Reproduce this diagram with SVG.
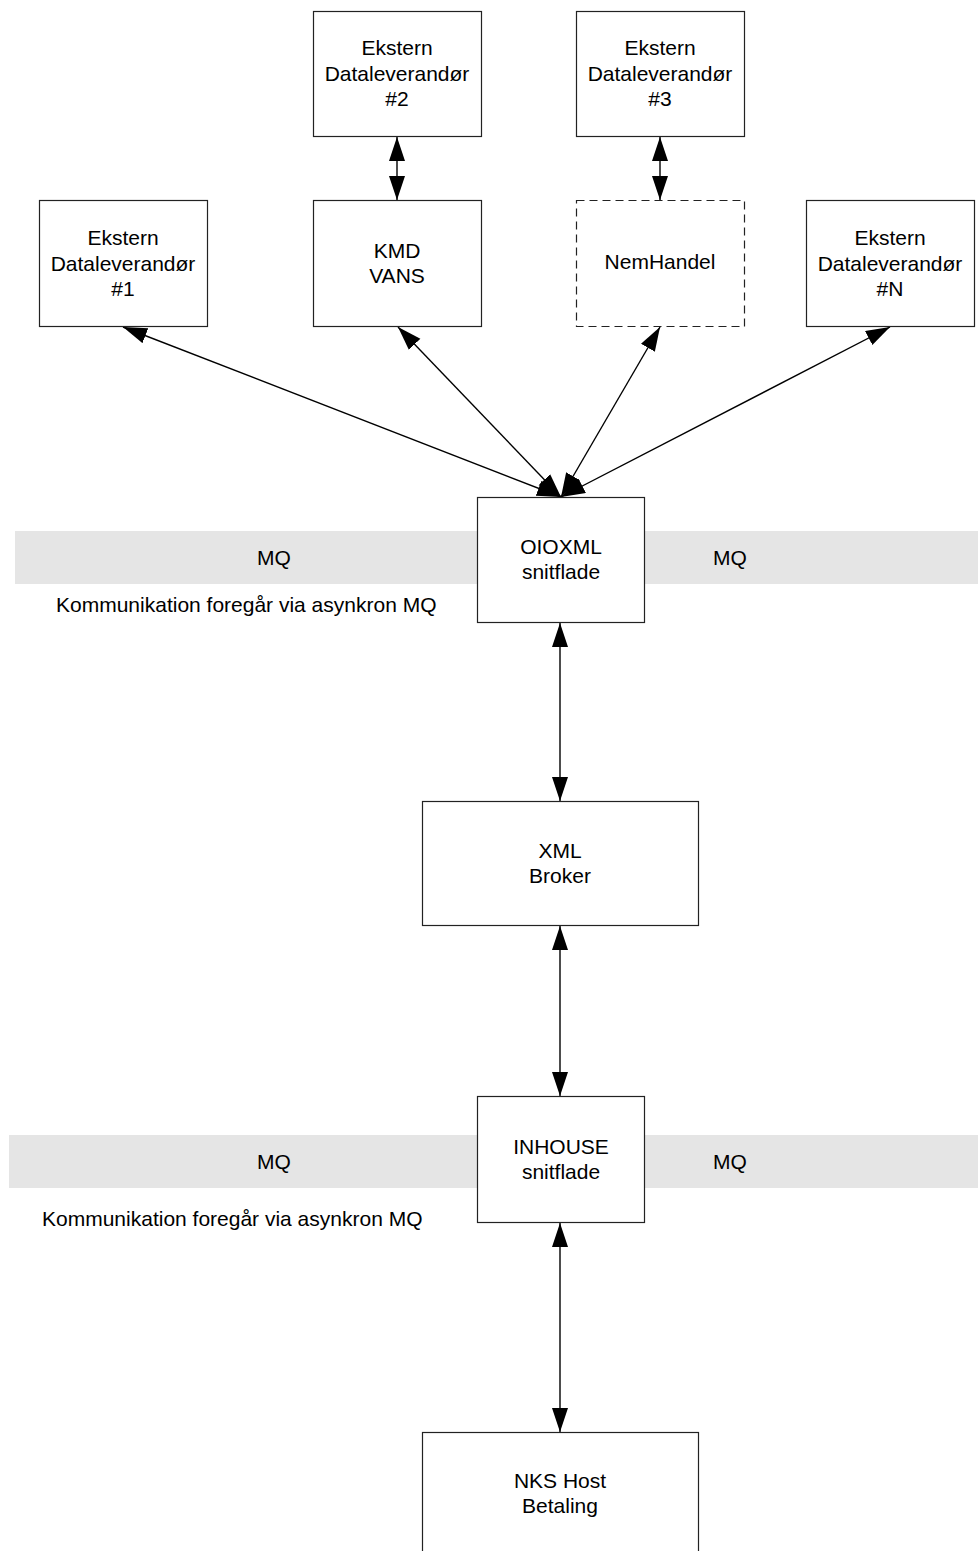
<svg xmlns="http://www.w3.org/2000/svg" width="978" height="1551" viewBox="0 0 978 1551">
<style>
.box{fill:#fff;stroke:#222;stroke-width:1.2}
.dash{stroke-dasharray:8 5}
.band{fill:#e5e5e5}
.t{font-family:"Liberation Sans",Arial,sans-serif;font-size:21px;fill:#000;text-anchor:middle}
.tl{font-family:"Liberation Sans",Arial,sans-serif;font-size:21px;fill:#000}
.c{stroke:#000;stroke-width:1.4;fill:none;marker-start:url(#ah);marker-end:url(#ah)}
</style>
<defs>
<marker id="ah" markerUnits="userSpaceOnUse" markerWidth="26" markerHeight="18" refX="24" refY="8" orient="auto-start-reverse" viewBox="0 0 26 18">
<path d="M0,0 L24,8 L0,16 Z" fill="#000"/>
</marker>
</defs>
<rect class="band" x="15" y="531" width="963" height="53"/>
<rect class="band" x="9" y="1135" width="969" height="53"/>
<g id="mq-labels">
<text class="t" x="274" y="565">MQ</text>
<text class="t" x="730" y="565">MQ</text>
<text class="tl" x="56" y="612">Kommunikation foregår via asynkron MQ</text>
<text class="t" x="274" y="1169">MQ</text>
<text class="t" x="730" y="1169">MQ</text>
<text class="tl" x="42" y="1226">Kommunikation foregår via asynkron MQ</text>
</g>
<g id="connectors">
<line class="c" x1="397" y1="137" x2="397" y2="200"/>
<line class="c" x1="660" y1="137" x2="660" y2="200"/>
<line class="c" x1="561" y1="497" x2="123" y2="327"/>
<line class="c" x1="561" y1="497" x2="398" y2="327"/>
<line class="c" x1="561" y1="497" x2="660" y2="327"/>
<line class="c" x1="561" y1="497" x2="890" y2="327"/>
<line class="c" x1="560" y1="623" x2="560" y2="801"/>
<line class="c" x1="560" y1="926" x2="560" y2="1096"/>
<line class="c" x1="560" y1="1223" x2="560" y2="1432"/>
</g>
<g id="ekstern2">
<rect class="box" x="313.5" y="11.5" width="168" height="125"/>
<text class="t" x="397" y="55">Ekstern</text>
<text class="t" x="397" y="81">Dataleverandør</text>
<text class="t" x="397" y="106">#2</text>
</g>
<g id="ekstern3">
<rect class="box" x="576.5" y="11.5" width="168" height="125"/>
<text class="t" x="660" y="55">Ekstern</text>
<text class="t" x="660" y="81">Dataleverandør</text>
<text class="t" x="660" y="106">#3</text>
</g>
<g id="ekstern1">
<rect class="box" x="39.5" y="200.5" width="168" height="126"/>
<text class="t" x="123" y="245">Ekstern</text>
<text class="t" x="123" y="271">Dataleverandør</text>
<text class="t" x="123" y="296">#1</text>
</g>
<g id="kmd">
<rect class="box" x="313.5" y="200.5" width="168" height="126"/>
<text class="t" x="397" y="258">KMD</text>
<text class="t" x="397" y="283">VANS</text>
</g>
<g id="nemhandel">
<rect class="box dash" x="576.5" y="200.5" width="168" height="126"/>
<text class="t" x="660" y="269">NemHandel</text>
</g>
<g id="eksternN">
<rect class="box" x="806.5" y="200.5" width="168" height="126"/>
<text class="t" x="890" y="245">Ekstern</text>
<text class="t" x="890" y="271">Dataleverandør</text>
<text class="t" x="890" y="296">#N</text>
</g>
<g id="oioxml">
<rect class="box" x="477.5" y="497.5" width="167" height="125"/>
<text class="t" x="561" y="554">OIOXML</text>
<text class="t" x="561" y="579">snitflade</text>
</g>
<g id="xmlbroker">
<rect class="box" x="422.5" y="801.5" width="276" height="124"/>
<text class="t" x="560" y="858">XML</text>
<text class="t" x="560" y="883">Broker</text>
</g>
<g id="inhouse">
<rect class="box" x="477.5" y="1096.5" width="167" height="126"/>
<text class="t" x="561" y="1154">INHOUSE</text>
<text class="t" x="561" y="1179">snitflade</text>
</g>
<g id="nks">
<rect class="box" x="422.5" y="1432.5" width="276" height="130"/>
<text class="t" x="560" y="1488">NKS Host</text>
<text class="t" x="560" y="1513">Betaling</text>
</g>
</svg>
